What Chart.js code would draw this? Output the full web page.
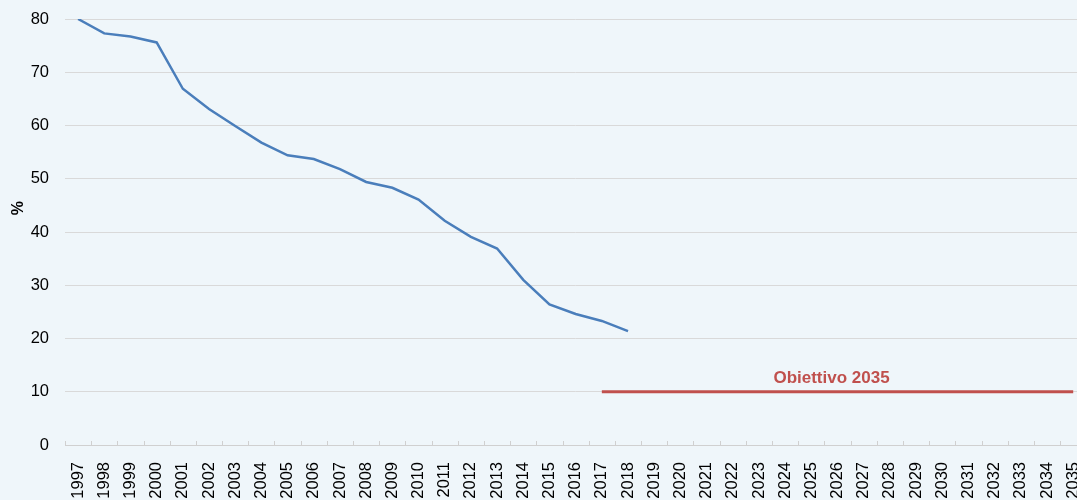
<!DOCTYPE html>
<html>
<head>
<meta charset="utf-8">
<script src="https://cdn.jsdelivr.net/npm/chart.js@4"></script>
<style>
  html, body { margin: 0; padding: 0; background: #eff6fa; overflow: hidden; }
  #wrap { position: relative; width: 1110px; height: 500px; }
</style>
</head>
<body>
<div id="wrap"><canvas id="chart"></canvas></div>
<script>
// Data
const years = [];
for (let y = 1997; y <= 2035; y++) years.push(String(y));
const share = [80, 77.3, 76.7, 75.6, 66.9, 63.1, 59.9, 56.8, 54.4, 53.7, 51.8, 49.4, 48.3, 46.1,
  42.1, 39.1, 36.9, 31.0, 26.4, 24.6, 23.3, 21.4];
const targetLabel = 'Obiettivo 2035';
const targetValue = 10;
const targetFrom = '2017';
const yTicks = [0, 10, 20, 30, 40, 50, 60, 70, 80];
const yTitle = '%';

const target = years.map(y => (Number(y) >= Number(targetFrom) ? targetValue : null));
const FONT = '"Liberation Sans", Arial, sans-serif';

// inside tick marks on x axis, axis title, target label
const extras = {
  id: 'extras',
  afterDatasetsDraw(chart) {
    const { ctx, scales: { x, y } } = chart;
    const n = years.length;
    const step = (x.right - x.left) / n;
    ctx.save();
    ctx.strokeStyle = '#d0d0d0';
    ctx.lineWidth = 1;
    for (let i = 0; i <= n; i++) {
      const px = Math.round(x.left + i * step) + 0.5;
      ctx.beginPath();
      ctx.moveTo(px, y.bottom);
      ctx.lineTo(px, y.bottom - 4);
      ctx.stroke();
    }
    const i0 = years.indexOf(targetFrom);
    const mid = (x.getPixelForValue(i0) + x.getPixelForValue(n - 1)) / 2;
    ctx.fillStyle = '#c0504d';
    ctx.font = 'bold 17px ' + FONT;
    ctx.textAlign = 'center';
    ctx.textBaseline = 'bottom';
    ctx.fillText(targetLabel, mid - 6, y.getPixelForValue(targetValue) - 5);

    ctx.fillStyle = '#000';
    ctx.font = 'bold 16px ' + FONT;
    ctx.translate(19, y.getPixelForValue(44.5));
    ctx.rotate(-Math.PI / 2);
    ctx.textBaseline = 'middle';
    ctx.fillText(yTitle, 0, 0);
    ctx.restore();
  }
};

new Chart(document.getElementById('chart'), {
  type: 'line',
  data: {
    labels: years,
    datasets: [
      { data: share, borderColor: '#4a7ebb', borderWidth: 2.5, pointRadius: 0, tension: 0, fill: false },
      { data: target, borderColor: '#c0504d', borderWidth: 3, pointRadius: 0, tension: 0, fill: false }
    ]
  },
  options: {
    responsive: true,
    maintainAspectRatio: false,
    animation: false,
    layout: { padding: { top: 19, right: 0, bottom: 0, left: 0 } },
    plugins: { legend: { display: false }, tooltip: { enabled: false } },
    scales: {
      x: {
        offset: true,
        afterFit(scale) { scale.height = 55; },
        grid: { display: false, drawTicks: false },
        border: { display: true, color: '#d0d0d0', width: 1 },
        ticks: {
          color: '#000', maxRotation: 90, minRotation: 90, autoSkip: false, padding: 17,
          font: { family: FONT, size: 16.5 }
        }
      },
      y: {
        min: 0, max: 80,
        afterBuildTicks(scale) { scale.ticks = yTicks.map(v => ({ value: v })); },
        afterFit(scale) { scale.width = 65; scale.paddingTop = 0; scale.paddingBottom = 0; },
        grid: { color: '#d9d9d9', drawTicks: false, lineWidth: 1 },
        border: { display: false },
        ticks: {
          color: '#000', padding: 16,
          font: { family: FONT, size: 16.5 }
        }
      }
    }
  },
  plugins: [extras]
});
</script>
</body>
</html>
